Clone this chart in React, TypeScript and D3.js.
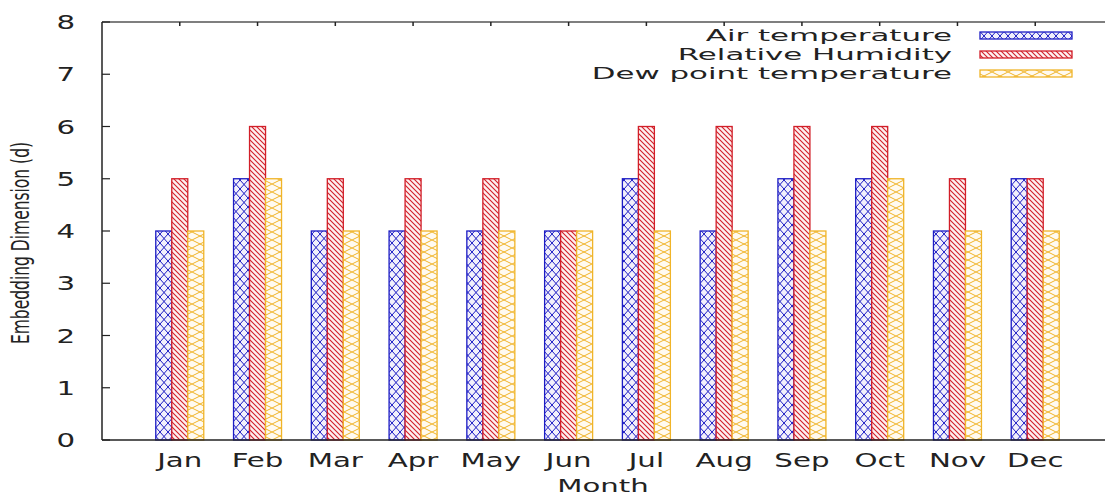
import React from "react";
import * as d3 from "d3";

const months = ["Jan", "Feb", "Mar", "Apr", "May", "Jun", "Jul", "Aug", "Sep", "Oct", "Nov", "Dec"];
const airTemperature = [4, 5, 4, 4, 4, 4, 5, 4, 5, 5, 4, 5];
const relativeHumidity = [5, 6, 5, 5, 5, 4, 6, 6, 6, 6, 5, 5];
const dewPointTemperature = [4, 5, 4, 4, 4, 4, 4, 4, 4, 5, 4, 4];
const yTicks = [0, 1, 2, 3, 4, 5, 6, 7, 8];
const seriesNames = ["Air temperature", "Relative Humidity", "Dew point temperature"];

const W = 1105;
const H = 497;
const left = 102;
const right = 1113;
const top = 22;
const bottom = 440;
const FONT = "DejaVu Sans";

const colors = ["#1c1cc4", "#d21e28", "#f0b428"];
const patternIds = ["patBlue", "patRed", "patYellow"];

function SText({ x, y, anchor, size, sx = 1.54, children, rotate }: any) {
  const t = rotate
    ? `translate(${x},${y}) scale(${sx},1) rotate(-90)`
    : `translate(${x},${y}) scale(${sx},1)`;
  return (
    <text transform={t} textAnchor={anchor} fontFamily={FONT} fontSize={size} fill="#222">
      {children}
    </text>
  );
}

export default function App() {
  const x = d3.scaleLinear().domain([-1, 12]).range([left, right]);
  const y = d3.scaleLinear().domain([0, 8]).range([bottom, top]);
  const unit = x(1) - x(0);
  const bw = 16 / unit;
  const series = [airTemperature, relativeHumidity, dewPointTemperature];

  return (
    <svg width={W} height={H} style={{ position: "absolute", left: 0, top: 0, background: "#fff" }}>
      <defs>
        <pattern id="patBlue" patternUnits="userSpaceOnUse" width={8} height={9}>
          <rect width={8} height={9} fill="#f2f0fb" />
          <path d="M0,0 L8,9 M8,0 L0,9" stroke={colors[0]} strokeWidth={1} fill="none" />
        </pattern>
        <pattern id="patRed" patternUnits="userSpaceOnUse" width={5} height={5}>
          <rect width={5} height={5} fill="#fdf0f0" />
          <path d="M-1,-1 L6,6 M-1,4 L1,6 M4,-1 L6,1" stroke={colors[1]} strokeWidth={1.1} fill="none" />
        </pattern>
        <pattern id="patYellow" patternUnits="userSpaceOnUse" width={16} height={8}>
          <rect width={16} height={8} fill="#fffaf0" />
          <path d="M0,0 L16,8 M16,0 L0,8" stroke={colors[2]} strokeWidth={1} fill="none" />
        </pattern>
      </defs>

      {/* bars */}
      {months.map((m, i) =>
        series.map((vals, s) => {
          const x0 = x(i - 1.5 * bw + s * bw);
          const x1 = x(i - 1.5 * bw + (s + 1) * bw);
          return (
            <rect
              key={m + s}
              x={x0}
              y={y(vals[i])}
              width={x1 - x0}
              height={y(0) - y(vals[i])}
              fill={`url(#${patternIds[s]})`}
              stroke={colors[s]}
              strokeWidth={1.3}
            />
          );
        })
      )}

      {/* frame */}
      <line x1={left} y1={top} x2={right} y2={top} stroke="#555" strokeWidth={1.5} />
      <line x1={left} y1={bottom} x2={right} y2={bottom} stroke="#222" strokeWidth={1.5} />
      <line x1={left} y1={top} x2={left} y2={bottom} stroke="#222" strokeWidth={1.5} />
      <line x1={right} y1={top} x2={right} y2={bottom} stroke="#222" strokeWidth={1.5} />

      {/* y ticks */}
      {yTicks.map((t) => (
        <g key={"yt" + t}>
          <line x1={left} x2={left + 8} y1={y(t)} y2={y(t)} stroke="#222" strokeWidth={1.2} />
          <line x1={right} x2={right - 8} y1={y(t)} y2={y(t)} stroke="#222" strokeWidth={1.2} />
          <SText x={75} y={y(t) + 7} anchor="end" size={19}>
            {String(t)}
          </SText>
        </g>
      ))}

      {/* x ticks & labels */}
      {months.map((m, i) => (
        <g key={"xt" + m}>
          <line x1={x(i)} x2={x(i)} y1={top} y2={top + 4} stroke="#222" strokeWidth={1.5} />
          <SText x={x(i)} y={467} anchor="middle" size={19}>
            {m}
          </SText>
        </g>
      ))}

      {/* axis titles */}
      <SText x={603} y={492} anchor="middle" size={18} sx={1.62}>
        Month
      </SText>
      <SText x={29} y={243} anchor="middle" size={15.5} sx={1.62} rotate>
        Embedding Dimension (d)
      </SText>

      {/* legend */}
      {seriesNames.map((name, s) => (
        <g key={"lg" + s}>
          <SText x={952} y={41 + s * 19} anchor="end" size={16} sx={1.93}>
            {name}
          </SText>
          <rect
            x={980}
            y={32 + s * 19}
            width={92}
            height={7}
            fill={`url(#${patternIds[s]})`}
            stroke={colors[s]}
            strokeWidth={1.3}
          />
        </g>
      ))}
    </svg>
  );
}
